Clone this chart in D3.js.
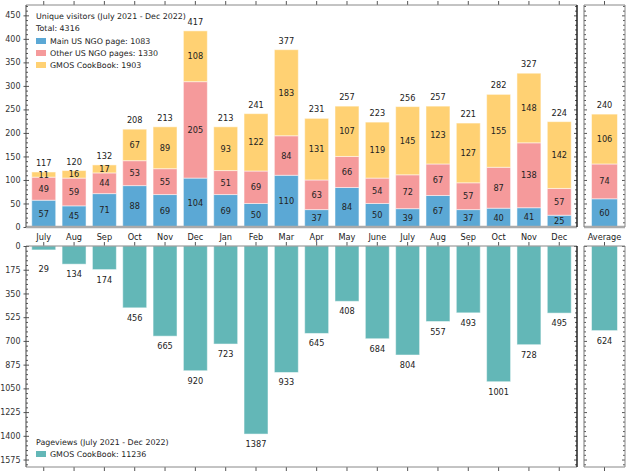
<!DOCTYPE html>
<html>
<head>
<meta charset="utf-8">
<script src="https://cdn.jsdelivr.net/npm/d3@7"></script>
<style>
  body { margin: 0; background: #fff; }
  text { font-family: "DejaVu Sans", Verdana, sans-serif; fill: #222; }
  .axis text { font-size: 8px; fill: #333; }
  .axis path, .axis line { stroke: #555; }
</style>
</head>
<body>
<svg id="chart" width="630" height="473"></svg>
<script>
// months July 2021 .. Dec 2022
const months = ["July", "Aug", "Sep", "Oct", "Nov", "Dec", "Jan", "Feb", "Mar", "Apr", "May", "June", "July", "Aug", "Sep", "Oct", "Nov", "Dec"];
const mainNgo = [57, 45, 71, 88, 69, 104, 69, 50, 110, 37, 84, 50, 39, 67, 37, 40, 41, 25];
const otherNgo = [49, 59, 44, 53, 55, 205, 51, 69, 84, 63, 66, 54, 72, 67, 57, 87, 138, 57];
const cookbook = [11, 16, 17, 67, 89, 108, 93, 122, 183, 131, 107, 119, 145, 123, 127, 155, 148, 142];
const pageviews = [29, 134, 174, 456, 665, 920, 723, 1387, 933, 645, 408, 684, 804, 557, 493, 1001, 728, 495];
const avgVisitors = [60, 74, 106];
const avgPageviews = 624;

const seriesNames = ["Main US NGO page", "Other US NGO pages", "GMOS CookBook"];
const seriesTotals = [1083, 1330, 1903];
const colors = ["#5ba8d5", "#f59a9b", "#ffd173"];
const teal = "#63b7b7";

const topTicks = d3.range(0, 451, 50);
const botTicks = d3.range(0, 1576, 175);

const fs = 8.2;   // numbers, month labels
const fsLeg = 7.9; // legend text
const svg = d3.select("#chart");

const x = d3.scaleBand().domain(d3.range(months.length)).range([26, 577])
    .paddingInner(0.21).paddingOuter(0.19);
const xAvg = d3.scaleBand().domain(["Average"]).range([584, 625])
    .paddingInner(0).paddingOuter(0.29);
const yTop = d3.scaleLinear().domain([0, 472]).range([227, 5]);
const yBot = d3.scaleLinear().domain([0, 1630]).range([246, 467]);

// stacked data
const rows = months.map((m, i) => ({ i, a: mainNgo[i], b: otherNgo[i], c: cookbook[i] }));
const stack = d3.stack().keys(["a", "b", "c"]);
const stacked = stack(rows);
const avgRow = [{ i: "Average", a: avgVisitors[0], b: avgVisitors[1], c: avgVisitors[2] }];
const stackedAvg = stack(avgRow);

// ---------- axes / frames ----------
function yAxes(g, scale, ticks, minorStep, left, right, labels) {
    const minor = d3.range(0, scale.domain()[1], minorStep).filter(v => !ticks.includes(v));
    if (labels) {
        g.append("g").attr("class", "axis").attr("transform", `translate(${left},0)`)
            .call(d3.axisLeft(scale).tickValues(ticks).tickSize(2.5).tickPadding(3).tickFormat(d3.format("d")))
            .call(s => s.select(".domain").remove());
    }
    g.append("g").attr("class", "axis").attr("transform", `translate(${left},0)`)
        .call(d3.axisRight(scale).tickValues(ticks).tickSize(3).tickFormat(""))
        .call(s => s.select(".domain").remove());
    g.append("g").attr("class", "axis").attr("transform", `translate(${left},0)`)
        .call(d3.axisRight(scale).tickValues(minor).tickSize(2).tickFormat(""))
        .call(s => s.select(".domain").remove());
    g.append("g").attr("class", "axis").attr("transform", `translate(${right},0)`)
        .call(d3.axisLeft(scale).tickValues(ticks).tickSize(3).tickFormat(""))
        .call(s => s.select(".domain").remove());
    g.append("g").attr("class", "axis").attr("transform", `translate(${right},0)`)
        .call(d3.axisLeft(scale).tickValues(minor).tickSize(2).tickFormat(""))
        .call(s => s.select(".domain").remove());
}

function xTicks(g, scale, y, dir) {
    const ax = dir > 0 ? d3.axisBottom(scale) : d3.axisTop(scale);
    g.append("g").attr("class", "axis").attr("transform", `translate(0,${y})`)
        .call(ax.tickSize(-4).tickFormat(""))
        .call(s => s.select(".domain").remove());
}

const frames = svg.append("g");
yAxes(frames, yTop, topTicks, 10, 26, 577, true);
yAxes(frames, yTop, topTicks, 10, 584, 625, false);
yAxes(frames, yBot, botTicks, 35, 26, 577, true);
yAxes(frames, yBot, botTicks, 35, 584, 625, false);
[x, xAvg].forEach(sc => {
    xTicks(frames, sc, yTop.range()[1], 1);
    xTicks(frames, sc, yBot.range()[0], 1);
    xTicks(frames, sc, yBot.range()[1], -1);
});

// ---------- top bars ----------
const topG = svg.append("g");
function drawStack(data, scale) {
    data.forEach((layer, k) => {
        topG.selectAll(null).data(layer).enter().append("rect")
            .attr("x", d => scale(d.data.i))
            .attr("width", scale.bandwidth())
            .attr("y", d => yTop(d[1]))
            .attr("height", d => yTop(d[0]) - yTop(d[1]))
            .attr("fill", colors[k])
            .attr("stroke", "#fff").attr("stroke-opacity", 0.5).attr("stroke-width", 1);
        topG.selectAll(null).data(layer).enter().append("text")
            .attr("x", d => scale(d.data.i) + scale.bandwidth() / 2)
            .attr("y", d => yTop((d[0] + d[1]) / 2))
            .attr("text-anchor", "middle").attr("dominant-baseline", "central")
            .attr("font-size", fs)
            .text(d => d[1] - d[0]);
    });
    const last = data[data.length - 1];
    topG.selectAll(null).data(last).enter().append("text")
        .attr("x", d => scale(d.data.i) + scale.bandwidth() / 2)
        .attr("y", d => yTop(d[1]) - 9)
        .attr("text-anchor", "middle").attr("dominant-baseline", "central")
        .attr("font-size", fs)
        .text(d => d[1]);
}
drawStack(stacked, x);
drawStack(stackedAvg, xAvg);

// ---------- bottom bars ----------
const botG = svg.append("g");
const pvRows = pageviews.map((v, i) => ({ i, v })).concat([{ i: "Average", v: avgPageviews }]);
const sc = d => (d.i === "Average" ? xAvg : x);
botG.selectAll(null).data(pvRows).enter().append("rect")
    .attr("x", d => sc(d)(d.i))
    .attr("width", d => sc(d).bandwidth())
    .attr("y", yBot(0))
    .attr("height", d => yBot(d.v) - yBot(0))
    .attr("fill", teal)
    .attr("stroke", "#fff").attr("stroke-opacity", 0.5).attr("stroke-width", 1);
botG.selectAll(null).data(pvRows).enter().append("text")
    .attr("x", d => sc(d)(d.i) + sc(d).bandwidth() / 2)
    .attr("y", d => Math.max(yBot(d.v) + 10, yBot(170)))
    .attr("text-anchor", "middle").attr("dominant-baseline", "central")
    .attr("font-size", fs)
    .text(d => d.v);

// ---------- spines ----------
const sp = svg.append("g").attr("fill", "none");
function spines(x0, x1, y0, y1, baseTop, baseBottom, leftColor, rightColor) {
    sp.append("line").attr("x1", x0).attr("x2", x1).attr("y1", y0).attr("y2", y0)
        .attr("stroke", baseTop ? "#aaa" : "#888").attr("stroke-width", baseTop ? 2.5 : 1);
    sp.append("line").attr("x1", x0).attr("x2", x1).attr("y1", y1).attr("y2", y1)
        .attr("stroke", baseBottom ? "#aaa" : "#888").attr("stroke-width", baseBottom ? 2.5 : 1);
    sp.append("line").attr("x1", x0).attr("x2", x0).attr("y1", y0).attr("y2", y1)
        .attr("stroke", leftColor).attr("stroke-width", 1);
    sp.append("line").attr("x1", x1).attr("x2", x1).attr("y1", y0).attr("y2", y1)
        .attr("stroke", rightColor).attr("stroke-width", rightColor === "#222" ? 1.5 : 1);
}
spines(26, 577, yTop.range()[1], yTop.range()[0], false, true, "#444", "#222");
spines(584, 625, yTop.range()[1], yTop.range()[0], false, true, "#777", "#888");
spines(26, 577, yBot.range()[0], yBot.range()[1], false, false, "#444", "#222");
spines(584, 625, yBot.range()[0], yBot.range()[1], false, false, "#777", "#888");

// month labels
const lab = svg.append("g");
lab.selectAll(null).data(months).enter().append("text")
    .attr("x", (d, i) => x(i) + x.bandwidth() / 2)
    .attr("y", 236.5)
    .attr("text-anchor", "middle").attr("dominant-baseline", "central")
    .attr("font-size", fs)
    .text(d => d);
lab.append("text")
    .attr("x", xAvg("Average") + xAvg.bandwidth() / 2).attr("y", 236.5)
    .attr("text-anchor", "middle").attr("dominant-baseline", "central")
    .attr("font-size", fs)
    .text("Average");

// ---------- legends ----------
const leg = svg.append("g");
leg.append("text").attr("x", 36).attr("y", 16).attr("dominant-baseline", "central")
    .attr("font-size", fsLeg).text("Unique visitors (July 2021 - Dec 2022)");
leg.append("text").attr("x", 36).attr("y", 28).attr("dominant-baseline", "central")
    .attr("font-size", fsLeg).text("Total: " + d3.sum(seriesTotals));
seriesNames.forEach((n, k) => {
    const yy = 41 + k * 12;
    leg.append("rect").attr("x", 36).attr("y", yy - 3).attr("width", 10).attr("height", 6)
        .attr("fill", colors[k]);
    leg.append("text").attr("x", 50).attr("y", yy).attr("dominant-baseline", "central")
        .attr("font-size", fsLeg).text(`${n}: ${seriesTotals[k]}`);
});
leg.append("text").attr("x", 36).attr("y", 442).attr("dominant-baseline", "central")
    .attr("font-size", fsLeg).text("Pageviews (July 2021 - Dec 2022)");
leg.append("rect").attr("x", 36).attr("y", 451).attr("width", 10).attr("height", 6).attr("fill", teal);
leg.append("text").attr("x", 50).attr("y", 454).attr("dominant-baseline", "central")
    .attr("font-size", fsLeg).text("GMOS CookBook: " + d3.sum(pageviews));
</script>
</body>
</html>
